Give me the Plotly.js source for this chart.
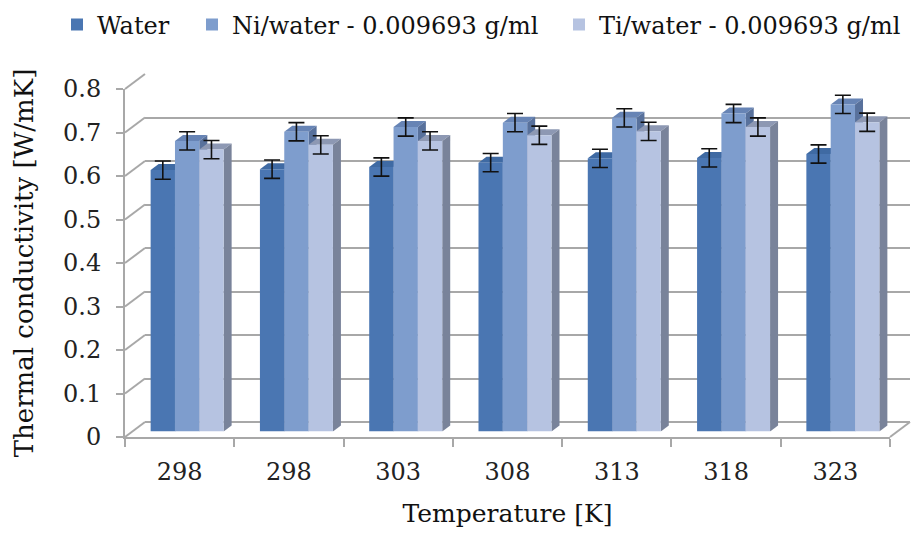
<!DOCTYPE html>
<html>
<head>
<meta charset="utf-8">
<script src="https://cdn.plot.ly/plotly-3.0.1.min.js"></script>
<style>html,body{margin:0;padding:0;background:#fff;}#chart{width:924px;height:540px;}</style>
</head>
<body>
<div id="chart"></div>
<script>
// ---- data ----
const categories = ['298', '298', '303', '308', '313', '318', '323'];
const seriesNames = ['Water', 'Ni/water - 0.009693 g/ml', 'Ti/water - 0.009693 g/ml'];
const water = [0.601, 0.603, 0.608, 0.618, 0.628, 0.629, 0.638];
const niWater = [0.668, 0.689, 0.700, 0.710, 0.721, 0.731, 0.752];
const tiWater = [0.648, 0.659, 0.668, 0.681, 0.690, 0.700, 0.711];
const errorValue = 0.021;
const yTicks = [0, 0.1, 0.2, 0.3, 0.4, 0.5, 0.6, 0.7, 0.8];

// ---- style ----
const FONT = 'DejaVu Serif';
const frontColors = ['#4a76b2', '#7e9dcd', '#b6c3e1'];
const topColors = ['#3f6aa3', '#6784b5', '#8d98b3'];
const sideColors = ['#3a5b8c', '#58719c', '#79839a'];
const gridColor = '#a8a8a8';
const legendTextX = [97, 232, 599]; // pixel x of legend text starts

// plot area geometry (pixels)
const W = 785, H = 363;
const depthX = 20, depthY = 15;    // back wall offset
const barX = 7.5, barY = 5.5;      // bar front plane offset
const faceDX = 0.0732, faceDY = 0.0138; // bar depth in data units
const bargap = 0.332;
const yMax = 0.8;

const frontXDom = [0, (W - depthX) / W];
const frontYDom = [0, (H - depthY) / H];
const backXDom = [depthX / W, 1];
const backYDom = [depthY / H, 1];
const barXDom = [barX / W, (W - depthX + barX) / W];
const barYDom = [barY / H, (H - depthY + barY) / H];

const idx = categories.map((c, i) => i);
const allSeries = [water, niWater, tiWater];
const legendIds = ['legend', 'legend2', 'legend3'];

const traces = allSeries.map((vals, s) => ({
  type: 'bar',
  name: seriesNames[s],
  legend: legendIds[s],
  x: idx,
  y: vals,
  xaxis: 'x2',
  yaxis: 'y2',
  marker: {color: frontColors[s], line: {width: 0}},
  error_y: {type: 'constant', value: errorValue, color: '#111', thickness: 1.6, width: 8},
  hoverinfo: 'skip'
}));
// dummy traces so the back-wall and front-axis subplots exist
traces.unshift({type: 'scatter', x: [0], y: [0], xaxis: 'x', yaxis: 'y', mode: 'markers',
  marker: {opacity: 0}, showlegend: false, hoverinfo: 'skip'});
traces.push({type: 'scatter', x: [0], y: [0], xaxis: 'x3', yaxis: 'y3', mode: 'markers',
  marker: {opacity: 0}, showlegend: false, hoverinfo: 'skip'});

// 3D faces of the bars
const shapes = [];
const bw = (1 - bargap) / 3;
allSeries.forEach((vals, s) => {
  vals.forEach((v, i) => {
    const left = i + (s - 1) * bw - bw / 2;
    const right = left + bw;
    shapes.push({type: 'path', xref: 'x2', yref: 'y2', layer: 'between',
      path: `M${left},${v} L${right},${v} L${right + faceDX},${v + faceDY} L${left + faceDX},${v + faceDY} Z`,
      fillcolor: topColors[s], line: {width: 0}});
    shapes.push({type: 'path', xref: 'x2', yref: 'y2', layer: 'between',
      path: `M${right},0 L${right},${v} L${right + faceDX},${v + faceDY} L${right + faceDX},${faceDY} Z`,
      fillcolor: sideColors[s], line: {width: 0}});
  });
});
// side-wall connectors from the front axis to the back wall
yTicks.forEach(t => {
  const yf = frontYDom[0] + t / yMax * (frontYDom[1] - frontYDom[0]);
  const yb = backYDom[0] + t / yMax * (backYDom[1] - backYDom[0]);
  shapes.push({type: 'line', xref: 'paper', yref: 'paper', layer: 'below',
    x0: frontXDom[0], y0: yf, x1: backXDom[0], y1: yb, line: {color: gridColor, width: 2}});
});
// right floor connector
shapes.push({type: 'line', xref: 'paper', yref: 'paper', layer: 'below',
  x0: frontXDom[1], y0: 0, x1: 1, y1: backYDom[0], line: {color: gridColor, width: 2}});

const boundaries = [];
for (let i = 0; i <= categories.length; i++) boundaries.push(i - 0.5);

const tickFont = {family: FONT, size: 24, color: '#222'};
const legendFont = {family: FONT, size: 24, color: '#111'};
const layout = {
  width: 924, height: 540,
  margin: {l: 125, r: 924 - 125 - W, t: 74, b: 540 - 74 - H, autoexpand: false},
  paper_bgcolor: '#fff', plot_bgcolor: 'rgba(0,0,0,0)',
  showlegend: true,
  bargap: bargap, bargroupgap: 0, barmode: 'group',
  // back wall
  xaxis: {domain: backXDom, range: [-0.5, 6.5], visible: false, fixedrange: true},
  yaxis: {domain: backYDom, range: [0, yMax], dtick: 0.1, showgrid: true, gridcolor: gridColor,
    gridwidth: 2, zeroline: true, zerolinecolor: gridColor, zerolinewidth: 2,
    showticklabels: false, ticks: '', showline: false, fixedrange: true},
  // bars
  xaxis2: {domain: barXDom, range: [-0.5, 6.5], anchor: 'y2', visible: false, fixedrange: true},
  yaxis2: {domain: barYDom, range: [0, yMax], anchor: 'x2', visible: false, fixedrange: true},
  // front axes
  xaxis3: {domain: frontXDom, range: [-0.5, 6.5], anchor: 'y3', tickmode: 'array',
    tickvals: idx, ticktext: categories, ticks: '', showgrid: false, zeroline: false,
    showline: true, linecolor: gridColor, linewidth: 2, tickfont: tickFont,
    ticklabelstandoff: 12,
    minor: {tickmode: 'array', tickvals: boundaries, ticks: 'outside', ticklen: 8,
      tickcolor: gridColor, tickwidth: 2, showgrid: false},
    title: {text: 'Temperature [K]', font: {family: FONT, size: 25, color: '#111'}, standoff: 20},
    fixedrange: true},
  yaxis3: {domain: frontYDom, range: [0, yMax], anchor: 'x3', tickmode: 'array', tickvals: yTicks,
    ticks: 'outside', ticklen: 7, tickcolor: gridColor, tickwidth: 2, showgrid: false,
    zeroline: false, showline: true, linecolor: gridColor, linewidth: 2, tickfont: tickFont,
    ticklabelstandoff: 10,
    title: {text: 'Thermal conductivity [W/mK]', font: {family: FONT, size: 26, color: '#111'}, standoff: 22},
    fixedrange: true},
  shapes: shapes
};
legendIds.forEach((id, s) => {
  layout[id] = {orientation: 'h', xref: 'container', yref: 'container',
    x: (legendTextX[s] - 40) / 924, xanchor: 'left', y: 1 - 25 / 540, yanchor: 'middle',
    font: legendFont, bgcolor: 'rgba(0,0,0,0)', borderwidth: 0};
});

Plotly.newPlot('chart', traces, layout, {displayModeBar: false, staticPlot: true});
</script>
</body>
</html>
